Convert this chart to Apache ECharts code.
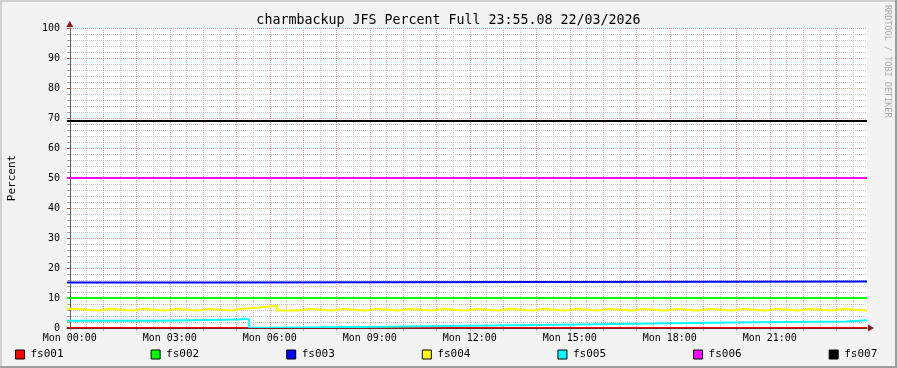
<!DOCTYPE html>
<html>
<head>
<meta charset="utf-8">
<script src="https://cdn.jsdelivr.net/npm/echarts@6/dist/echarts.min.js"></script>
<style>
html,body{margin:0;padding:0;background:#f3f3f3;}
#chart{width:897px;height:368px;}
</style>
</head>
<body>
<div id="chart"></div>
<script>
// ---- data (minutes relative to Mon 00:00; step changes) ----
const seriesNames = ['fs001','fs002','fs003','fs004','fs005','fs006','fs007'];
const seriesColors = ['#ff0000','#00ff00','#0000ff','#ffff00','#00ffff','#ff00ff','#000000'];

const fs001_t = [-5, 1435];
const fs001_v = [0, 0];
const fs002_t = [-5, 1435];
const fs002_v = [10, 10];
const fs003_t = [-5, 257, 1435];
const fs003_v = [15.2, 15.5, 15.5];
const fs004_t = [-5, 12, 52, 72, 112, 132, 172, 192, 232, 252, 292, 310, 342, 373, 412, 432, 472, 492, 532, 552, 592, 612, 652, 672, 712, 732, 772, 792, 832, 852, 892, 912, 952, 972, 1012, 1032, 1072, 1092, 1132, 1152, 1192, 1212, 1252, 1272, 1312, 1332, 1372, 1392, 1435];
const fs004_v = [6.3, 5.8, 6.3, 5.8, 6.3, 5.8, 6.3, 5.8, 6.3, 5.8, 6.4, 6.8, 7.4, 5.8, 6.3, 5.8, 6.3, 5.8, 6.3, 5.8, 6.3, 5.8, 6.3, 5.8, 6.3, 5.8, 6.3, 5.8, 6.3, 5.8, 6.3, 5.8, 6.3, 5.8, 6.3, 5.8, 6.3, 5.8, 6.3, 5.8, 6.3, 5.8, 6.3, 5.8, 6.3, 5.8, 6.3, 5.8, 5.8];
const fs005_t = [-5, 157, 306, 312, 323, 366, 567, 720, 882, 1082, 1236, 1397, 1435];
const fs005_v = [2.4, 2.8, 3.1, 2.8, 0.1, 0.45, 0.75, 1.1, 1.55, 1.9, 2.2, 2.55, 2.55];
const fs006_t = [-5, 1435];
const fs006_v = [50, 50];
const fs007_t = [-5, 1435];
const fs007_v = [69, 69];

const timeLabelMinutes = [0, 180, 360, 540, 720, 900, 1080, 1260];
const timeLabels = ['Mon 00:00','Mon 03:00','Mon 06:00','Mon 09:00','Mon 12:00','Mon 15:00','Mon 18:00','Mon 21:00'];

const titleText = 'charmbackup JFS Percent Full 23:55.08 22/03/2026';
const yName = 'Percent';
const watermark = 'RRDTOOL / TOBI OETIKER';

// ---- helpers ----
const T = [fs001_t, fs002_t, fs003_t, fs004_t, fs005_t, fs006_t, fs007_t];
const V = [fs001_v, fs002_v, fs003_v, fs004_v, fs005_v, fs006_v, fs007_v];
const X_MIN = -5, X_MAX = 1435;
const hourTicks = [], halfTicks = [];
for (let m = 0; m < X_MAX; m += 60) { hourTicks.push(m); if (m + 30 < X_MAX) halfTicks.push(m + 30); }

const FONT = '"DejaVu Sans Mono", monospace';
const chart = echarts.init(document.getElementById('chart'), null, {renderer: 'canvas'});

const series = seriesNames.map((name, i) => ({
  name: name,
  type: 'line',
  xAxisIndex: 1,
  yAxisIndex: 0,
  step: 'end',
  symbol: 'none',
  data: T[i].map((t, k) => [t, V[i][k]]),
  lineStyle: {color: seriesColors[i], width: 2},
  itemStyle: {color: seriesColors[i]},
  emphasis: {disabled: true}
}));

const option = {
  animation: false,
  backgroundColor: '#f3f3f3',
  title: {
    text: titleText, left: 'center', top: 9,
    textStyle: {fontFamily: FONT, fontSize: 13.3, fontWeight: 'normal', color: '#000'}
  },
  legend: {
    data: seriesNames,
    left: 10, top: 344, width: 880,
    icon: 'rect', itemWidth: 9, itemHeight: 9, itemGap: 87,
    itemStyle: {borderColor: '#000', borderWidth: 1},
    textStyle: {fontFamily: FONT, fontSize: 11, color: '#000', padding: [0, 0, 0, 1]},
    selectedMode: false
  },
  grid: {left: 67, right: 30, top: 28, bottom: 40, show: true, backgroundColor: '#ffffff', borderWidth: 0,
    containLabel: false, outerBoundsMode: 'none'},
  xAxis: [
    { // minor vertical grid (half hours)
      type: 'value', min: X_MIN, max: X_MAX, position: 'bottom',
      axisLine: {show: false}, axisLabel: {show: false},
      axisTick: {show: false, customValues: halfTicks},
      splitLine: {show: true, lineStyle: {color: '#c8c8c8', width: 1, type: [1, 1]}}
    },
    { // main: labels, ticks, major grid
      type: 'value', min: X_MIN, max: X_MAX, position: 'bottom',
      axisLine: {show: false},
      axisTick: {show: true, length: 3, inside: false, customValues: hourTicks, lineStyle: {color: '#e39a9a'}},
      axisLabel: {show: true, customValues: timeLabelMinutes, margin: 5,
        fontFamily: FONT, fontSize: 10, color: '#000',
        formatter: v => timeLabels[timeLabelMinutes.indexOf(v)] || ''},
      splitLine: {show: true, lineStyle: {color: '#f2a0a0', width: 1, type: [1, 1]}}
    },
    { // axis line with arrow on top
      type: 'value', min: X_MIN, max: X_MAX, position: 'bottom', z: 5,
      axisLine: {show: true, lineStyle: {color: '#7f1f1f', width: 1},
        symbol: ['none', 'triangle'], symbolSize: [7, 6], symbolOffset: [0, 4]},
      axisTick: {show: false}, axisLabel: {show: false}, splitLine: {show: false}
    }
  ],
  yAxis: [
    {
      type: 'value', min: 0, max: 100, interval: 10,
      name: yName, nameLocation: 'middle', nameGap: 49, nameRotate: 90,
      nameTextStyle: {fontFamily: FONT, fontSize: 11, color: '#000'},
      axisLine: {show: true, lineStyle: {color: '#606060', width: 1}},
      axisTick: {show: true, length: 3, lineStyle: {color: '#a05050'}},
      minorTick: {show: true, splitNumber: 5, length: 2, lineStyle: {color: '#909090'}},
      axisLabel: {show: true, margin: 7, fontFamily: FONT, fontSize: 10, color: '#000'},
      splitLine: {show: true, lineStyle: {color: '#f2a0a0', width: 1, type: [1, 1]}},
      minorSplitLine: {show: true, lineStyle: {color: '#c8c8c8', width: 1, type: [1, 1]}}
    },
    {
      type: 'value', min: 0, max: 100, interval: 10, position: 'left', z: 5,
      axisLine: {show: true, lineStyle: {color: '#7f1f1f', width: 0},
        symbol: ['none', 'triangle'], symbolSize: [7, 6], symbolOffset: [0, 4]},
      axisTick: {show: false}, axisLabel: {show: false}, splitLine: {show: false}
    }
  ],
  graphic: [
    {type: 'rect', left: 0, top: 0, shape: {width: 897, height: 2}, style: {fill: '#cfcfcf'}, silent: true},
    {type: 'rect', left: 0, top: 0, shape: {width: 2, height: 368}, style: {fill: '#cfcfcf'}, silent: true},
    {type: 'rect', right: 0, top: 0, shape: {width: 2, height: 368}, style: {fill: '#9e9e9e'}, silent: true},
    {type: 'rect', left: 0, bottom: 0, shape: {width: 897, height: 2}, style: {fill: '#9e9e9e'}, silent: true},
    {type: 'text', x: 883, y: 5, rotation: -Math.PI / 2,
      style: {text: watermark, fill: '#a8a8a8', font: '8.5px ' + FONT, textAlign: 'left', textVerticalAlign: 'bottom'},
      silent: true}
  ],
  series: series
};
chart.setOption(option);
</script>
</body>
</html>
